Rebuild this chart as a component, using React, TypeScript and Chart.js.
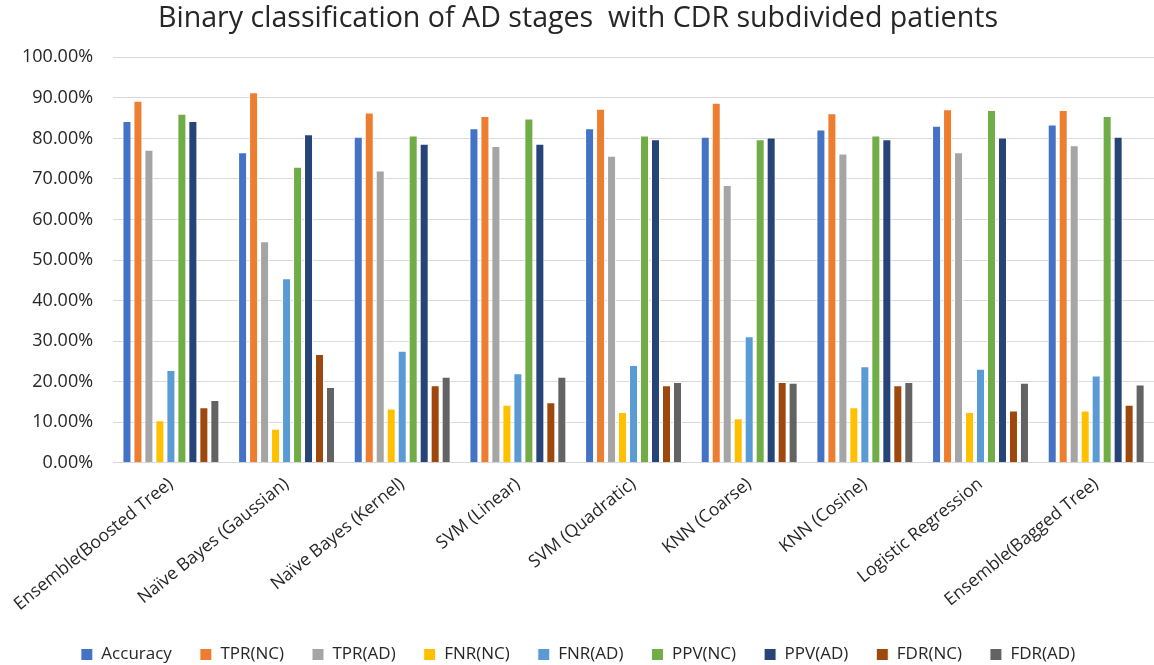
import React, { useEffect, useRef } from "react";
import { Chart, registerables } from "chart.js";

Chart.register(...registerables);

const categories = [
  "Ensemble(Boosted Tree)",
  "Naïve Bayes (Gaussian)",
  "Naïve Bayes (Kernel)",
  "SVM (Linear)",
  "SVM (Quadratic)",
  "KNN (Coarse)",
  "KNN (Cosine)",
  "Logistic Regression",
  "Ensemble(Bagged Tree)",
];

const accuracy = [84.3, 76.6, 80.4, 82.5, 82.5, 80.4, 82.2, 83.1, 83.4];
const tprNC = [89.3, 91.4, 86.4, 85.5, 87.3, 88.8, 86.2, 87.2, 87.0];
const tprAD = [77.2, 54.6, 72.1, 78.1, 75.7, 68.5, 76.3, 76.6, 78.3];
const fnrNC = [10.5, 8.4, 13.4, 14.3, 12.5, 11.0, 13.7, 12.5, 12.9];
const fnrAD = [22.9, 45.5, 27.6, 22.1, 24.1, 31.2, 23.8, 23.2, 21.5];
const ppvNC = [86.1, 73.0, 80.7, 84.9, 80.7, 79.8, 80.7, 87.0, 85.5];
const ppvAD = [84.3, 81.0, 78.7, 78.7, 79.8, 80.2, 79.8, 80.2, 80.4];
const fdrNC = [13.7, 26.8, 19.1, 14.9, 19.1, 19.9, 19.1, 12.9, 14.3];
const fdrAD = [15.5, 18.7, 21.2, 21.2, 19.9, 19.7, 19.9, 19.7, 19.3];

const seriesNames = ["Accuracy", "TPR(NC)", "TPR(AD)", "FNR(NC)", "FNR(AD)", "PPV(NC)", "PPV(AD)", "FDR(NC)", "FDR(AD)"];
const seriesValues = [accuracy, tprNC, tprAD, fnrNC, fnrAD, ppvNC, ppvAD, fdrNC, fdrAD];
const seriesColors = ["#4472C4", "#ED7D31", "#A5A5A5", "#FFC000", "#5B9BD5", "#70AD47", "#264478", "#9E480E", "#636363"];

const titleText = "Binary classification of AD stages  with CDR subdivided patients";

export default function App() {
  const ref = useRef<HTMLCanvasElement | null>(null);
  useEffect(() => {
    document.body.style.margin = "0";
    const ctx = ref.current!;
    const chart = new Chart(ctx, {
      type: "bar",
      data: {
        labels: categories,
        datasets: seriesNames.map((name, i) => ({
          label: name,
          data: seriesValues[i].map((v) => v / 100),
          backgroundColor: seriesColors[i],
          borderColor: "#FFFFFF",
          borderWidth: 1,
          categoryPercentage: 0.855,
          barPercentage: 0.82,
        })),
      },
      options: {
        animation: false,
        responsive: false,
        maintainAspectRatio: false,
        layout: { padding: { left: 2, right: 0, top: 2, bottom: -8 } },
        plugins: {
          title: {
            display: true,
            text: titleText,
            color: "#262626",
            font: { family: "Open Sans", size: 28.6, weight: "normal" },
            padding: { top: 0, bottom: 21 },
          },
          legend: {
            position: "bottom",
            labels: {
              boxWidth: 12,
              boxHeight: 12,
              padding: 28,
              color: "#262626",
              font: { family: "Open Sans", size: 17 },
            },
          },
          tooltip: { enabled: false },
        },
        scales: {
          x: {
            grid: { display: false },
            border: { color: "#D9D9D9" },
            ticks: {
              minRotation: 39,
              maxRotation: 39,
              color: "#262626",
              font: { family: "Open Sans", size: 17.5 },
              padding: 3,
            },
          },
          y: {
            min: 0,
            max: 1,
            grid: { color: "#D9D9D9", drawTicks: false },
            border: { display: false },
            ticks: {
              stepSize: 0.1,
              color: "#262626",
              padding: 20,
              font: { family: "Open Sans", size: 18 },
              callback: (v: any) => (Number(v) * 100).toFixed(2) + "%",
            },
          },
        },
      },
    });
    return () => chart.destroy();
  }, []);
  return <canvas ref={ref} width={1154} height={665} style={{ display: "block" }} />;
}
